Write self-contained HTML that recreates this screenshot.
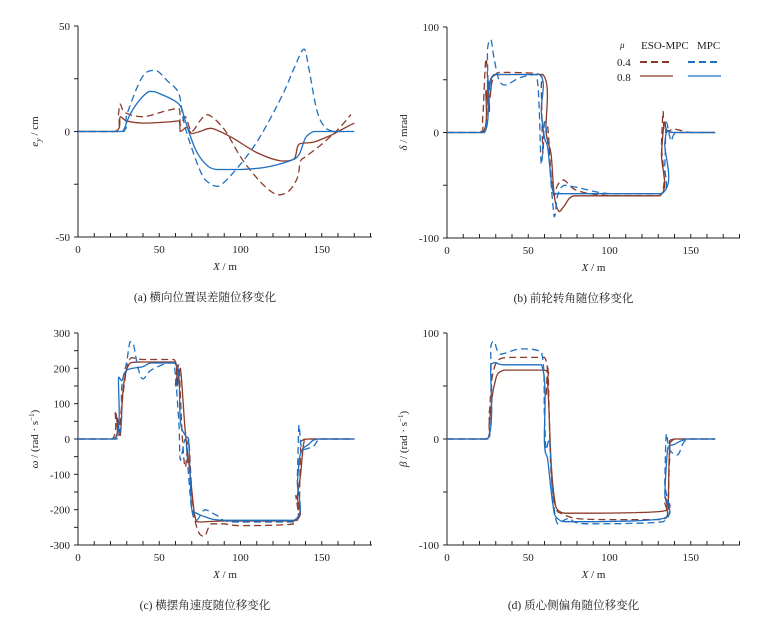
<!DOCTYPE html>
<html><head><meta charset="utf-8"><style>
body{margin:0;background:#fff;width:760px;height:624px;overflow:hidden}
svg text{font-family:"Liberation Serif","Noto Serif CJK SC",serif;fill:#222}
</style></head><body>
<svg id="s" width="760" height="624" xmlns="http://www.w3.org/2000/svg"></svg>
<script>
const S=document.getElementById('s');let h='';
const RD='#8b3a2a',BL='#1f6fc0';
function cl(v,a,b){const lo=Math.min(a,b),hi=Math.max(a,b);return Math.max(lo,Math.min(hi,v));}
function smooth(P){
 let s='M'+P[0][0].toFixed(1)+','+P[0][1].toFixed(1);
 for(let i=0;i<P.length-1;i++){
  const p0=P[i-1]||P[i],p1=P[i],p2=P[i+1],p3=P[i+2]||P[i+1];
  const t=0.17;
  const c1=[p1[0]+(p2[0]-p0[0])*t,cl(p1[1]+(p2[1]-p0[1])*t,p1[1],p2[1])];
  const c2=[p2[0]-(p3[0]-p1[0])*t,cl(p2[1]-(p3[1]-p1[1])*t,p1[1],p2[1])];
  s+=`C${c1[0].toFixed(1)},${c1[1].toFixed(1)} ${c2[0].toFixed(1)},${c2[1].toFixed(1)} ${p2[0].toFixed(1)},${p2[1].toFixed(1)}`;
 }
 return s;
}
function panel(p){
 const {x0,yTop,yBot,vmax,vmin,xend,yt,ylabel,caption,series}=p;
 const sx=1.625, sy=(yBot-yTop)/(vmax-vmin);
 const X=v=>x0+v*sx, Y=v=>yTop+(vmax-v)*sy;
 h+=`<line x1="${x0}" y1="${yTop}" x2="${x0}" y2="${yBot}" stroke="#222" stroke-width="1"/>`;
 h+=`<line x1="${x0}" y1="${yBot}" x2="${xend}" y2="${yBot}" stroke="#222" stroke-width="1"/>`;
 for(let v=0;v<=180;v+=10){if(X(v)>xend)break;h+=`<line x1="${X(v)}" y1="${yBot}" x2="${X(v)}" y2="${yBot-4}" stroke="#222"/>`;}
 for(let v=0;v<=150;v+=50)h+=`<text x="${X(v)}" y="${yBot+16}" font-size="11" text-anchor="middle">${v}</text>`;
 const st=yt/2;
 for(let v=vmin;v<=vmax+1e-6;v+=st)h+=`<line x1="${x0}" y1="${Y(v)}" x2="${x0-4}" y2="${Y(v)}" stroke="#222"/>`;
 for(let v=vmin;v<=vmax+1e-6;v+=yt)h+=`<text x="${x0-8}" y="${Y(v)+4}" font-size="11" text-anchor="end">${v}</text>`;
 h+=`<text x="${(x0+xend)/2}" y="${yBot+33}" font-size="11" text-anchor="middle"><tspan font-style="italic">X</tspan> / m</text>`;
 h+=`<text transform="translate(${x0-40},${(yTop+yBot)/2}) rotate(-90)" font-size="11" text-anchor="middle">${ylabel}</text>`;
 h+=`<text x="${(x0+xend)/2-20}" y="${yBot+64}" font-size="11.5" text-anchor="middle">${caption}</text>`;
 for(const [c,d,pts] of series){
  const P=[];for(let i=0;i<pts.length;i+=2)P.push([X(pts[i]),Y(pts[i+1])]);
  h+=`<path d="${smooth(P)}" fill="none" stroke="${c}" stroke-width="1.3" ${d?'stroke-dasharray="7,4"':''} stroke-linejoin="round"/>`;
 }
}
panel({x0:78,yTop:26,yBot:237,vmax:50,vmin:-50,xend:372,yt:50,
 ylabel:'<tspan font-style="italic">e</tspan><tspan font-size="8" dy="3" font-style="italic">y</tspan><tspan dy="-3"> / cm</tspan>',caption:'(a) 横向位置误差随位移变化',
 series:[
 [RD,1,[0,0,23,0,25,9,26,13,29,9,40,7,55,10,62,11,63,3,66,7,70,0,75,5,80,8,90,1,100,-12,110,-22,118,-28,124,-30,130,-28,135,-22,137,-14,140,-12,150,-6,160,1,168,8]],
 [RD,0,[0,0,23,0,26,7,30,5,40,4,55,4.5,62,5,63,0,67,2,70,-1,75,0,82,1.5,95,-3,110,-10,125,-14,133,-13,136,-6,145,-5,155,-2,160,0,170,4]],
 [BL,1,[0,0,27,0,30,8,37,22,42,28,48,29,55,24,62,18,65,5,70,-8,76,-20,80,-24,86,-26,95,-20,110,-5,125,16,133,30,139,39,142,30,147,10,152,2,158,0,165,0]],
 [BL,0,[0,0,26,0,28,0.5,32,8,38,15,44,19,50,18,62,13,66,5,72,-8,78,-15,85,-18,100,-18,115,-17,130,-14,136,-11,140,-3,145,0,150,0,170,0]]]});
panel({x0:447,yTop:27,yBot:238,vmax:100,vmin:-100,xend:740,yt:100,
 ylabel:'<tspan font-style="italic">δ</tspan> / mrad',caption:'(b) 前轮转角随位移变化',
 series:[
 [RD,1,[0,0,20,0,22,15,24,70,26,30,28,50,32,57,40,57,57,55,58,40,59,-20,60,10,62,5,64,-40,66,-60,68,-50,72,-45,80,-55,100,-60,131,-60,132,-10,133,20,134,0,140,3,150,0,165,0]],
 [RD,0,[0,0,22,0,24,40,26,20,29,55,59,55,61,0,64,-20,66,-60,69,-75,72,-70,78,-60,95,-60,131,-60,132,-20,134,10,138,0,165,0]],
 [BL,1,[0,0,23,0,25,80,27,88,29,70,32,50,36,45,45,52,55,55,58,-30,60,10,62,-10,66,-80,68,-60,72,-50,80,-52,100,-58,132,-58,134,-30,135,10,138,-8,142,0,165,0]],
 [BL,0,[0,0,23,0,25,50,27,40,30,55,57,55,58,20,60,-5,62,-15,65,-55,68,-58,80,-58,132,-58,134,-10,136,2,140,0,165,0]]]});
panel({x0:78,yTop:333,yBot:545,vmax:300,vmin:-300,xend:372,yt:100,
 ylabel:'<tspan font-style="italic">ω</tspan> / (rad · s<tspan font-size="7" dy="-4">−1</tspan><tspan dy="4">)</tspan>',caption:'(c) 横摆角速度随位移变化',
 series:[
 [RD,1,[0,0,21,0,23,80,25,10,27,100,30,200,33,230,40,225,59,225,60,150,62,210,64,20,66,-80,68,0,70,-150,72,-230,75,-270,78,-275,82,-240,90,-240,100,-245,133,-240,134,-160,136,-220,137,-50,140,0,170,0]],
 [RD,0,[0,0,22,0,24,60,26,10,28,150,32,215,40,218,59,218,61,150,63,200,66,20,69,-100,72,-220,75,-235,90,-232,133,-232,135,-160,137,-100,139,-10,142,0,170,0]],
 [BL,1,[0,0,24,0,27,150,30,220,32,275,34,270,37,200,40,170,45,195,55,215,59,215,62,50,63,-60,66,0,68,-100,70,-200,73,-230,78,-200,85,-215,95,-235,133,-235,135,-100,136,40,138,-30,145,-20,150,0,170,0]],
 [BL,0,[0,0,23,0,25,175,27,165,30,195,40,205,45,215,59,215,62,180,63,50,66,10,68,0,70,-200,73,-210,78,-220,90,-230,133,-230,135,-120,137,-40,142,-15,148,0,170,0]]]});
panel({x0:447,yTop:333,yBot:545,vmax:100,vmin:-100,xend:740,yt:100,
 ylabel:'<tspan font-style="italic">β</tspan> / (rad · s<tspan font-size="7" dy="-4">−1</tspan><tspan dy="4">)</tspan>',caption:'(d) 质心侧偏角随位移变化',
 series:[
 [RD,1,[0,0,24,0,26,25,28,60,32,75,40,77,60,77,61,40,62,70,64,-30,67,-65,70,-70,80,-75,100,-76,133,-76,134,-60,136,-70,137,-20,140,0,165,0]],
 [RD,0,[0,0,24,0,26,15,29,50,35,65,60,65,62,50,64,-20,66,-55,69,-68,80,-70,133,-68,134,-55,136,-65,137,-10,140,0,165,0]],
 [BL,1,[0,0,25,0,27,88,29,92,33,80,45,85,58,82,60,20,61,-10,63,0,65,-50,68,-80,75,-75,85,-80,133,-78,134,-40,135,5,137,-10,142,-15,148,0,165,0]],
 [BL,0,[0,0,25,0,27,70,30,72,35,70,58,70,60,-5,62,-20,65,-60,68,-75,80,-78,133,-75,134,-50,136,-8,140,-5,148,0,165,0]]]});
h+=`<text x="620" y="48" font-size="9" font-style="italic">μ</text>
<text x="641" y="49" font-size="11">ESO-MPC</text><text x="697" y="49" font-size="11">MPC</text>
<text x="617" y="66" font-size="11">0.4</text><text x="617" y="81" font-size="11">0.8</text>
<line x1="640" y1="62" x2="673" y2="62" stroke="${RD}" stroke-width="2" stroke-dasharray="7,4"/>
<line x1="688" y1="62" x2="721" y2="62" stroke="${BL}" stroke-width="2" stroke-dasharray="7,4"/>
<line x1="640" y1="76" x2="673" y2="76" stroke="${RD}" stroke-width="1.3"/>
<line x1="688" y1="76" x2="721" y2="76" stroke="${BL}" stroke-width="1.3"/>`;
S.innerHTML=h;
</script>
</body></html>
